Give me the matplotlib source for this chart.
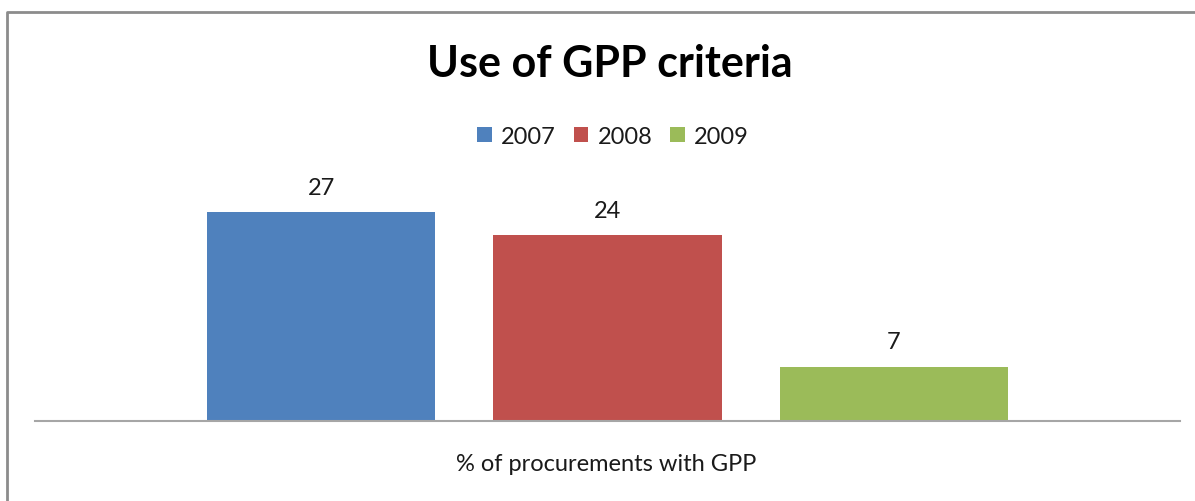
import matplotlib.pyplot as plt
from matplotlib.lines import Line2D

years = ['2007', '2008', '2009']
share = [27, 24, 7]
colors = ['#4F81BD', '#C0504D', '#9BBB59']
category = '% of procurements with GPP'

plt.rcParams['font.family'] = ['Lato', 'DejaVu Sans']

W, H = 1195, 502
fig = plt.figure(figsize=(W / 100, H / 100), dpi=100)

# plot area in pixels: x 35..1180, y 190..422
ax = fig.add_axes([35 / W, (H - 422) / H, 1145 / W, 232 / H])

positions = [-1, 0, 1]
for pos, year, val, col in zip(positions, years, share, colors):
    ax.bar(pos, val, width=0.797, color=col, label=year)
    ax.text(pos, val + 1.9, str(val), ha='center', va='bottom',
            fontsize=17, color='#1a1a1a', clip_on=False)

ax.set_xlim(-2, 2)
ax.set_ylim(0, 30)
for side in ['top', 'right', 'left']:
    ax.spines[side].set_visible(False)
ax.spines['bottom'].set_color('#A6A6A6')
ax.spines['bottom'].set_linewidth(1.5)
ax.set_yticks([])
ax.set_xticks([])

fig.text(606 / W, 1 - 465 / H, category, ha='center', va='center',
         fontsize=17, color='#1a1a1a')
fig.text(610 / W, 1 - 64 / H, 'Use of GPP criteria', ha='center', va='center',
         fontsize=31, fontweight='bold', color='black')

fig.legend(loc='center', bbox_to_anchor=(613 / W, 1 - 137 / H), ncol=3,
           frameon=False, fontsize=17, handlelength=0.62, handleheight=0.62,
           handletextpad=0.4, columnspacing=0.75, labelcolor='#1a1a1a')

# chart frame (top and left edges)
fig.add_artist(Line2D([7 / W, 7 / W, 1.0], [0.0, 1 - 13 / H, 1 - 13 / H],
                      transform=fig.transFigure, color='#8C8C8C', linewidth=2))

fig.savefig('out.png', dpi=100)
